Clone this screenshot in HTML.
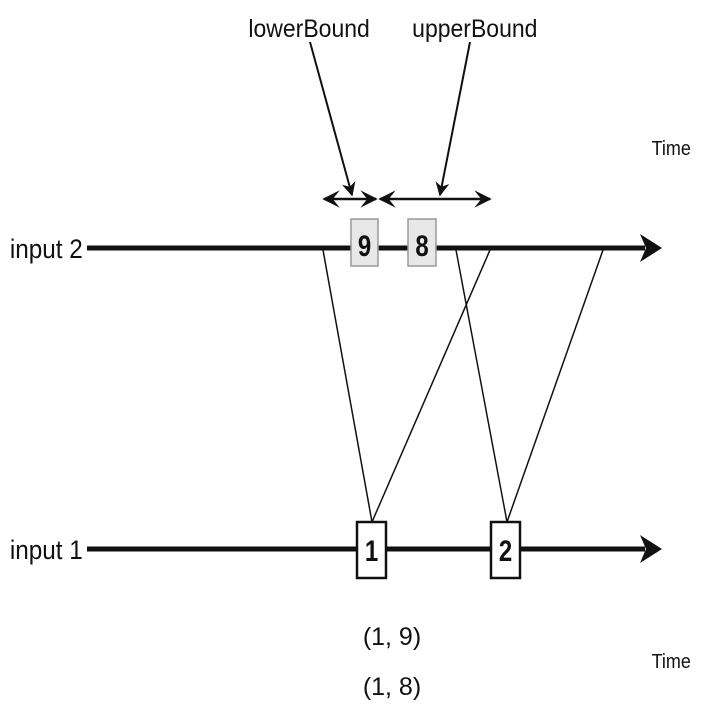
<!DOCTYPE html>
<html><head><style>body{margin:0;background:#fff}svg{display:block}text{font-family:"Liberation Sans",sans-serif;fill:#111}</style></head>
<body>
<svg width="703" height="725" viewBox="0 0 703 725">
<defs>
<marker id="ah" viewBox="0 0 10 10" refX="9" refY="5" markerWidth="7" markerHeight="7" orient="auto-start-reverse"><path d="M0,0 L10,5 L0,10 L4,5 Z" fill="#111"/></marker>
<marker id="bh" viewBox="0 0 10 10" refX="9" refY="5" markerWidth="7" markerHeight="7" orient="auto"><path d="M0,0 L10,5 L0,10 L3,5 Z" fill="#111"/></marker>
</defs>
<text x="248" y="37" font-size="25" transform="scale(0.92,1) translate(22,0)">lowerBound</text>
<text x="412" y="37" font-size="25" transform="scale(0.92,1) translate(36,0)">upperBound</text>
<text x="652" y="155" font-size="20" transform="scale(0.9,1) translate(72,0)">Time</text>
<text x="652" y="668" font-size="20" transform="scale(0.9,1) translate(72,0)">Time</text>
<text x="10" y="258" font-size="27" transform="scale(0.9,1) translate(1,0)">input 2</text>
<text x="10" y="559" font-size="27" transform="scale(0.9,1) translate(1,0)">input 1</text>
<line x1="310" y1="42" x2="352" y2="195" stroke="#111" stroke-width="2" marker-end="url(#bh)"/>
<line x1="470" y1="42" x2="440" y2="195" stroke="#111" stroke-width="2" marker-end="url(#bh)"/>
<line x1="324" y1="199" x2="376" y2="199" stroke="#111" stroke-width="2.5" marker-start="url(#ah)" marker-end="url(#ah)"/>
<line x1="380" y1="199" x2="490" y2="199" stroke="#111" stroke-width="2.5" marker-start="url(#ah)" marker-end="url(#ah)"/>
<line x1="87" y1="248" x2="645" y2="248" stroke="#111" stroke-width="5"/>
<path d="M640,234 L662,248 L640,262 L646,248 Z" fill="#111"/>
<line x1="87" y1="549" x2="645" y2="549" stroke="#111" stroke-width="5"/>
<path d="M640,535 L662,549 L640,563 L646,549 Z" fill="#111"/>
<g stroke="#111" stroke-width="1.5">
<line x1="323" y1="250" x2="372" y2="522"/>
<line x1="490" y1="250" x2="372" y2="522"/>
<line x1="456" y1="250" x2="507" y2="522"/>
<line x1="603" y1="250" x2="507" y2="522"/>
</g>
<rect x="351" y="219" width="27" height="47" fill="#e8e8e8" stroke="#999" stroke-width="1.5"/>
<rect x="408" y="219" width="28" height="47" fill="#e8e8e8" stroke="#999" stroke-width="1.5"/>
<rect x="357" y="522" width="29" height="56" fill="#fff" stroke="#111" stroke-width="2.5"/>
<rect x="491" y="522" width="29" height="56" fill="#fff" stroke="#111" stroke-width="2.5"/>
<g font-size="30" font-weight="bold" text-anchor="middle">
<text transform="translate(364.5,256) scale(0.8,1)">9</text>
<text transform="translate(422,256) scale(0.8,1)">8</text>
<text transform="translate(371.5,561) scale(0.8,1)">1</text>
<text transform="translate(505.5,561) scale(0.8,1)">2</text>
</g>
<text x="392" y="645" font-size="25" text-anchor="middle">(1, 9)</text>
<text x="392" y="695" font-size="25" text-anchor="middle">(1, 8)</text>
</svg>
</body></html>
